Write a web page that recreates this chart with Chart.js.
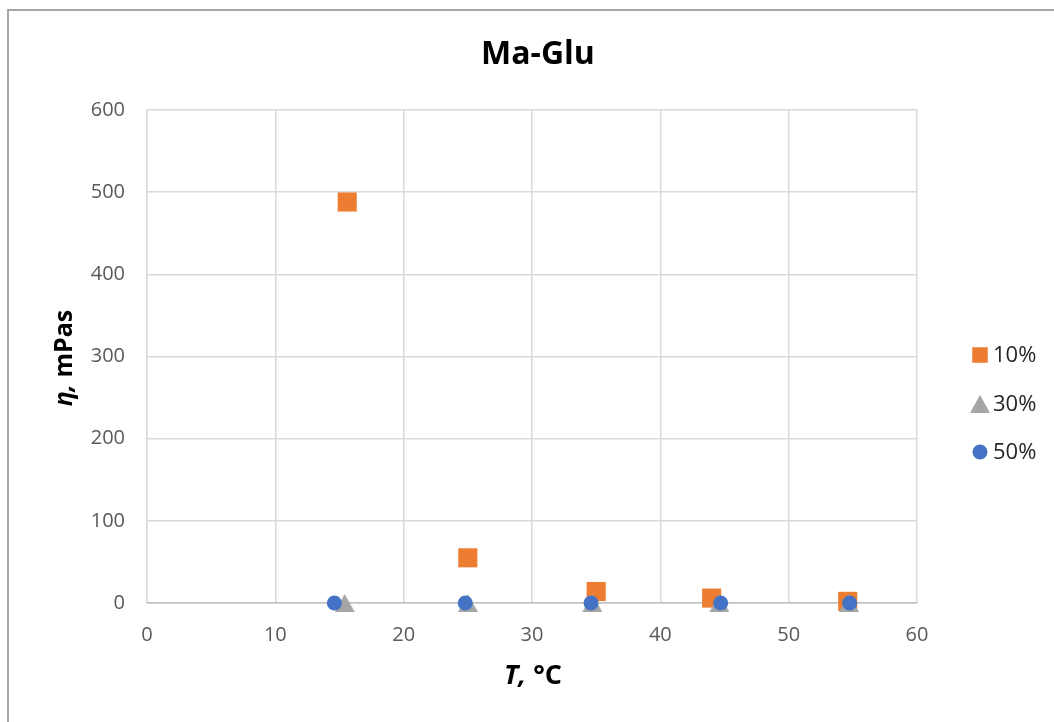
<!DOCTYPE html>
<html>
<head>
<meta charset="utf-8">
<script src="https://cdn.jsdelivr.net/npm/chart.js@4.4.1/dist/chart.umd.min.js"></script>
<style>
  html, body { margin: 0; padding: 0; background: #fff; overflow: hidden; }
  #wrap { position: relative; width: 1054px; height: 722px; }
  #frame { position: absolute; left: 7px; top: 9px; width: 1100px; height: 800px; border: 2px solid #a6a6a6; box-sizing: border-box; pointer-events: none; }
  canvas { position: absolute; left: 0; top: 0; }
</style>
</head>
<body>
<div id="wrap">
  <div id="frame"></div>
  <canvas id="chart" width="1054" height="722"></canvas>
</div>
<script>
// Data
const seriesNames = ["10%", "30%", "50%"];
const temp10 = [15.6, 25.0, 35.0, 44.0, 54.6];
const visc10 = [488, 55, 14, 6, 2];
const temp30 = [15.4, 25.0, 34.7, 44.6, 54.7];
const visc30 = [0, 0, 0, 0, 0];
const temp50 = [14.6, 24.8, 34.6, 44.7, 54.75];
const visc50 = [0, 0, 0, 0, 0];
const xTicks = [0, 10, 20, 30, 40, 50, 60];
const yTicks = [0, 100, 200, 300, 400, 500, 600];

const fontFamily = "'Open Sans', 'Noto Sans', sans-serif";

function toPoints(xs, ys) {
    return xs.map(function (x, i) { return { x: x, y: ys[i] }; });
}

// Excel-like triangle marker, centred on its box
function makeTriangle(w, h, color) {
    const c = document.createElement("canvas");
    c.width = w;
    c.height = h;
    const g = c.getContext("2d");
    g.fillStyle = color;
    g.beginPath();
    g.moveTo(w / 2, 0);
    g.lineTo(w, h);
    g.lineTo(0, h);
    g.closePath();
    g.fill();
    return c;
}
const triangleMarker = makeTriangle(20, 18, "#a5a5a5");

// draw text made of parts with their own fonts, centred on (cx, cy)
function drawParts(ctx, parts, cx, cy) {
    let total = 0;
    parts.forEach(function (p) { ctx.font = p.font; total += ctx.measureText(p.text).width; });
    let x = cx - total / 2;
    parts.forEach(function (p) {
        ctx.font = p.font;
        ctx.fillText(p.text, x, cy);
        x += ctx.measureText(p.text).width;
    });
}

// Title, axis titles and legend drawn at fixed spots like the original
const labelsPlugin = {
    id: "labelsPlugin",
    afterDraw: function (chart) {
        const ctx = chart.ctx;
        ctx.save();
        ctx.fillStyle = "#000";
        ctx.font = "bold 32px " + fontFamily;
        ctx.textAlign = "center";
        ctx.textBaseline = "middle";
        ctx.fillText("Ma-Glu", 538, 55);

        ctx.textAlign = "left";
        drawParts(ctx, [
            { text: "T,", font: "italic bold 27px " + fontFamily },
            { text: " °C", font: "bold 27px " + fontFamily }
        ], 533, 676);

        ctx.save();
        ctx.translate(65, 358);
        ctx.rotate(-Math.PI / 2);
        drawParts(ctx, [
            { text: "η,", font: "italic bold 25px " + fontFamily },
            { text: " mPas", font: "bold 25px " + fontFamily }
        ], 0, 0);
        ctx.restore();

        const rows = [2, 1, 0]; // dataset indexes in legend order
        const legendY = [355, 404, 452];
        ctx.font = "22px " + fontFamily;
        rows.forEach(function (dsIndex, i) {
            const ds = chart.data.datasets[dsIndex];
            ctx.fillStyle = ds.backgroundColor;
            const r = ds.pointStyle === "rect" ? 11 : 7.5;
            Chart.helpers.drawPoint(ctx, { pointStyle: ds.pointStyle, radius: r, borderWidth: 0, rotation: 0 }, 980, legendY[i]);
            ctx.fillStyle = "#262626";
            ctx.fillText(ds.label, 993, legendY[i] + 1);
        });
        ctx.restore();
    }
};

const ctx = document.getElementById("chart").getContext("2d");
const myChart = new Chart(ctx, {
    type: "scatter",
    data: {
        datasets: [
            {
                label: seriesNames[2],
                data: toPoints(temp50, visc50),
                pointStyle: "circle",
                pointRadius: 7.5,
                backgroundColor: "#4472c4",
                borderColor: "#4472c4",
                borderWidth: 0,
                clip: false,
                order: 1
            },
            {
                label: seriesNames[1],
                data: toPoints(temp30, visc30),
                pointStyle: triangleMarker,
                pointRadius: 10,
                backgroundColor: "#a5a5a5",
                borderColor: "#a5a5a5",
                borderWidth: 0,
                clip: false,
                order: 2
            },
            {
                label: seriesNames[0],
                data: toPoints(temp10, visc10),
                pointStyle: "rect",
                pointRadius: 13.5,
                backgroundColor: "#ed7d31",
                borderColor: "#ed7d31",
                borderWidth: 0,
                clip: false,
                order: 3
            }
        ]
    },
    options: {
        responsive: false,
        animation: false,
        layout: {
            padding: { left: 0, right: 137, top: 110, bottom: 0 }
        },
        plugins: {
            legend: { display: false },
            title: { display: false },
            tooltip: { enabled: false }
        },
        scales: {
            x: {
                type: "linear",
                min: 0,
                max: 60,
                afterFit: function (scale) { scale.height = 119; },
                afterBuildTicks: function (scale) {
                    scale.ticks = xTicks.map(function (v) { return { value: v }; });
                },
                grid: { color: "#d9d9d9", lineWidth: 1.5, drawTicks: false },
                border: { color: "#bfbfbf", width: 1.5 },
                ticks: {
                    padding: 20,
                    color: "#595959",
                    font: { family: fontFamily, size: 20 }
                }
            },
            y: {
                type: "linear",
                min: 0,
                max: 600,
                afterFit: function (scale) { scale.width = 147; },
                afterBuildTicks: function (scale) {
                    scale.ticks = yTicks.map(function (v) { return { value: v }; });
                },
                grid: { color: "#d9d9d9", lineWidth: 1.5, drawTicks: false },
                border: { color: "#d9d9d9", width: 1.5 },
                ticks: {
                    padding: 22,
                    color: "#595959",
                    font: { family: fontFamily, size: 20 }
                }
            }
        }
    },
    plugins: [labelsPlugin]
});
</script>
</body>
</html>
